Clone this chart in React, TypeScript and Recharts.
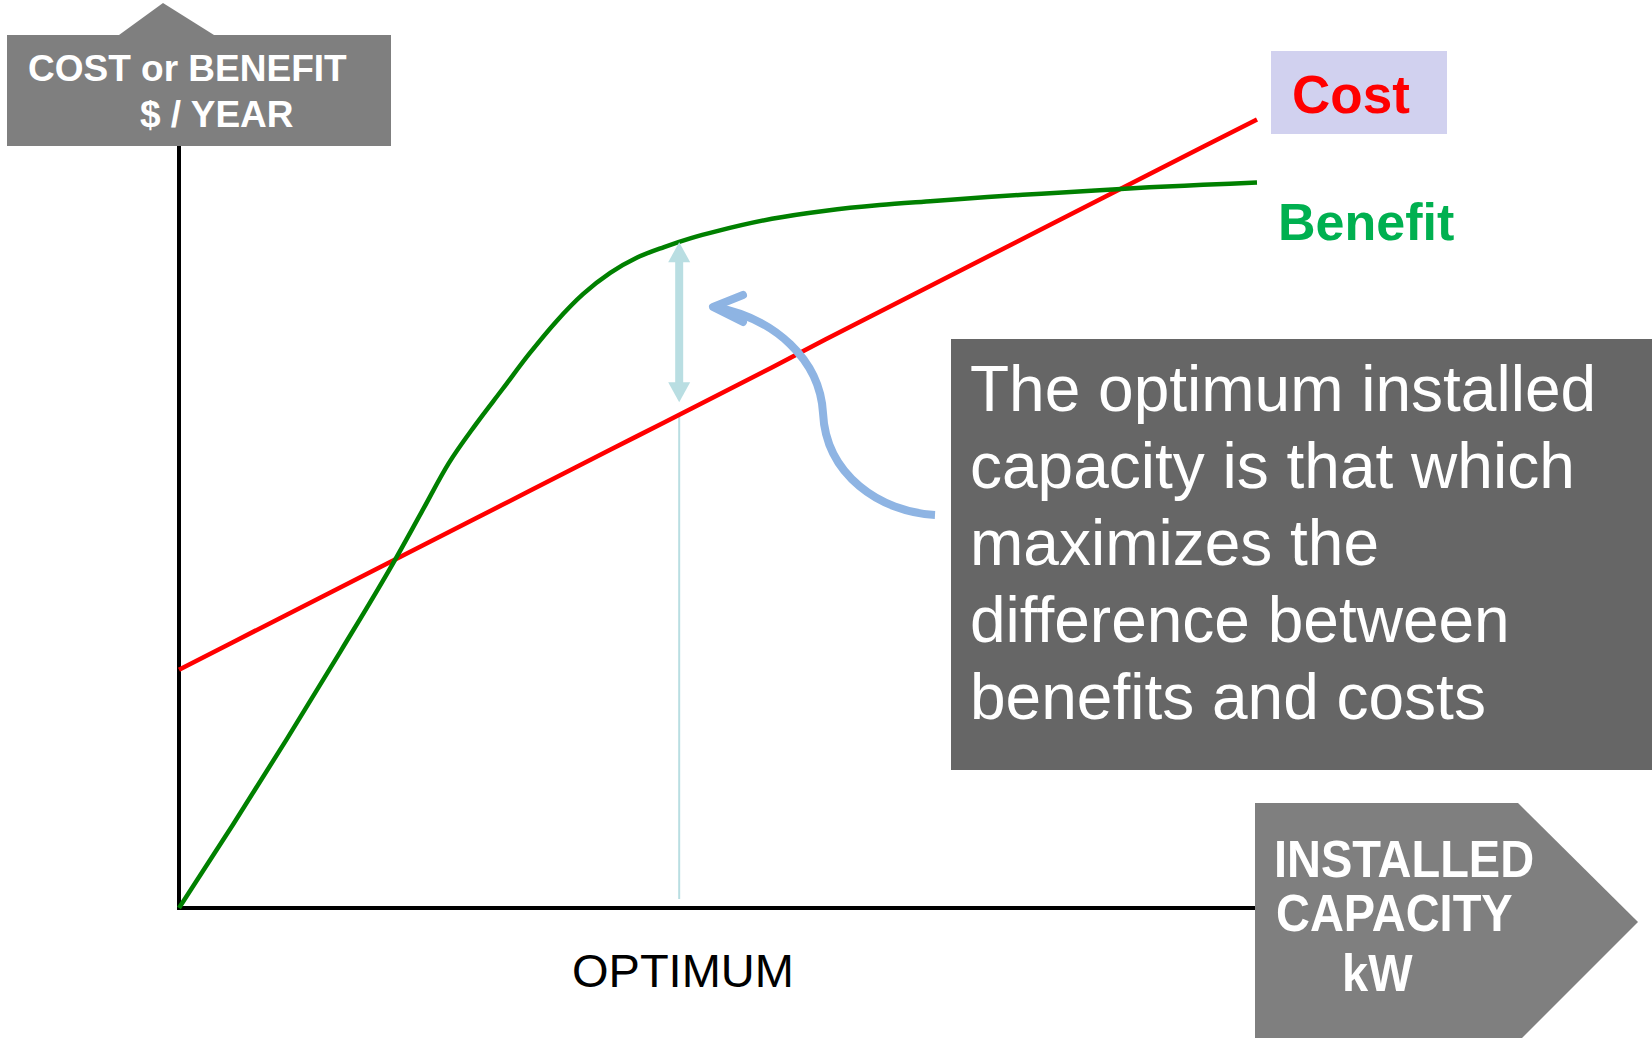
import { LineChart, Line, XAxis, YAxis, ReferenceLine } from "recharts";

// installed capacity (arbitrary units, 0..100 across the axis)
const capacity = [0, 5, 10, 15, 20, 22.5, 25, 27.5, 30, 32.5, 35, 37.5, 40, 42.5, 45, 47.5, 50, 55, 60, 65, 70, 75, 80, 85, 90, 95, 100];
// $ / year
const costValues = [29.5, 32.9, 36.3, 39.7, 43.1, 44.8, 46.5, 48.2, 49.9, 51.6, 53.3, 55.0, 56.7, 58.4, 60.1, 61.8, 63.5, 66.9, 70.4, 73.8, 77.2, 80.6, 84.0, 87.4, 90.8, 94.2, 97.6];
const benefitValues = [0, 10.3, 20.9, 31.8, 43.0, 49.0, 55.0, 59.8, 64.2, 68.6, 72.6, 76.0, 78.6, 80.5, 81.8, 82.9, 83.8, 85.3, 86.3, 87.0, 87.5, 88.0, 88.4, 88.8, 89.2, 89.5, 89.8];

const OPTIMUM = 46.4;
const benefitAtOptimum = 82.4;
const costAtOptimum = 61.1;

const textLines = [
  "The optimum installed",
  "capacity is that which",
  "maximizes the",
  "difference between",
  "benefits and costs",
];

const data = capacity.map((c, i) => ({ capacity: c, cost: costValues[i], benefit: benefitValues[i] }));

const FONT = "'Liberation Sans', Arial, Helvetica, sans-serif";
const ARROW_BLUE = "#B9DEE2";

// double headed arrow between the two curves at the optimum
const DoubleArrow = (props: any) => {
  const { x1, y1, y2 } = props;
  const top = y1;
  const bottom = y2 - 12;
  const hw = 11;
  const hl = 20;
  const sw = 4;
  return (
    <g>
      <rect x={x1 - sw} y={top + hl - 1} width={sw * 2} height={bottom - top - 2 * hl + 2} fill={ARROW_BLUE} />
      <polygon points={`${x1},${top} ${x1 - hw},${top + hl} ${x1 + hw},${top + hl}`} fill={ARROW_BLUE} />
      <polygon points={`${x1},${bottom} ${x1 - hw},${bottom - hl} ${x1 + hw},${bottom - hl}`} fill={ARROW_BLUE} />
    </g>
  );
};

const App = () => {
  return (
    <div style={{ position: "absolute", left: 0, top: 0, width: 1652, height: 1038, background: "#fff", overflow: "hidden", fontFamily: FONT }}>
      <LineChart width={1652} height={1038} data={data} margin={{ top: 100, right: 395, bottom: 130, left: 179 }}>
        <XAxis type="number" dataKey="capacity" domain={[0, 100]} hide />
        <YAxis type="number" domain={[0, 100]} hide />
        {/* axes */}
        <ReferenceLine x={0} stroke="#000" strokeWidth={4} strokeLinecap="square" />
        <ReferenceLine y={0} stroke="#000" strokeWidth={4} strokeLinecap="square" />
        <ReferenceLine
          segment={[{ x: OPTIMUM, y: 1.1 }, { x: OPTIMUM, y: costAtOptimum }]}
          stroke={ARROW_BLUE}
          strokeWidth={2}
        />
        <Line type="linear" dataKey="cost" stroke="#FF0000" strokeWidth={4.5} dot={false} isAnimationActive={false} />
        <Line type="monotone" dataKey="benefit" stroke="#008000" strokeWidth={4.5} dot={false} isAnimationActive={false} />
        <ReferenceLine
          segment={[{ x: OPTIMUM, y: benefitAtOptimum }, { x: OPTIMUM, y: costAtOptimum }]}
          shape={DoubleArrow}
        />
      </LineChart>

      <svg width={1652} height={1038} style={{ position: "absolute", left: 0, top: 0, pointerEvents: "none" }}>
        {/* y axis label with arrow roof */}
        <polygon points="7,35 119,35 163,3 214,35 391,35 391,146 7,146" fill="#7F7F7F" />
        <text x={28} y={81} fontSize={37} fontWeight="bold" fill="#fff" fontFamily={FONT}>COST or BENEFIT</text>
        <text x={140} y={127} fontSize={37} fontWeight="bold" fill="#fff" fontFamily={FONT}>$ / YEAR</text>

        {/* series labels */}
        <rect x={1271} y={51} width={176} height={83} fill="#D1D1EF" />
        <text x={1292} y={113} fontSize={53} fontWeight="bold" fill="#FF0000" fontFamily={FONT}>Cost</text>
        <text x={1278} y={240} fontSize={52} fontWeight="bold" fill="#00B050" fontFamily={FONT}>Benefit</text>

        {/* explanation box */}
        <rect x={951} y={339} width={701} height={431} fill="#666666" />
        {textLines.map((t, i) => (
          <text key={i} x={970} y={411 + i * 77} fontSize={64} fill="#fff" fontFamily={FONT}>{t}</text>
        ))}

        {/* curved pointer */}
        <path
          d="M 935 515 C 880 512, 826 475, 823 413 C 820 360, 775 318, 714 307"
          fill="none"
          stroke="#8EB4E3"
          strokeWidth={8}
        />
        <polyline points="743,295 713,307 743,322" fill="none" stroke="#8EB4E3" strokeWidth={8} strokeLinecap="round" strokeLinejoin="round" />

        {/* x axis label arrow */}
        <polygon points="1255,803 1518,803 1638,922 1518,1042 1255,1042" fill="#7F7F7F" />
        <text transform="translate(1274,877) scale(1,1.1)" fontSize={47} fontWeight="bold" fill="#fff" fontFamily={FONT}>INSTALLED</text>
        <text transform="translate(1276,931) scale(1,1.1)" fontSize={47} fontWeight="bold" fill="#fff" fontFamily={FONT}>CAPACITY</text>
        <text transform="translate(1342,991) scale(1,1.1)" fontSize={47} fontWeight="bold" fill="#fff" fontFamily={FONT}>kW</text>

        <text x={572} y={987} fontSize={47} fill="#000" fontFamily={FONT}>OPTIMUM</text>
      </svg>
    </div>
  );
};

export default App;
